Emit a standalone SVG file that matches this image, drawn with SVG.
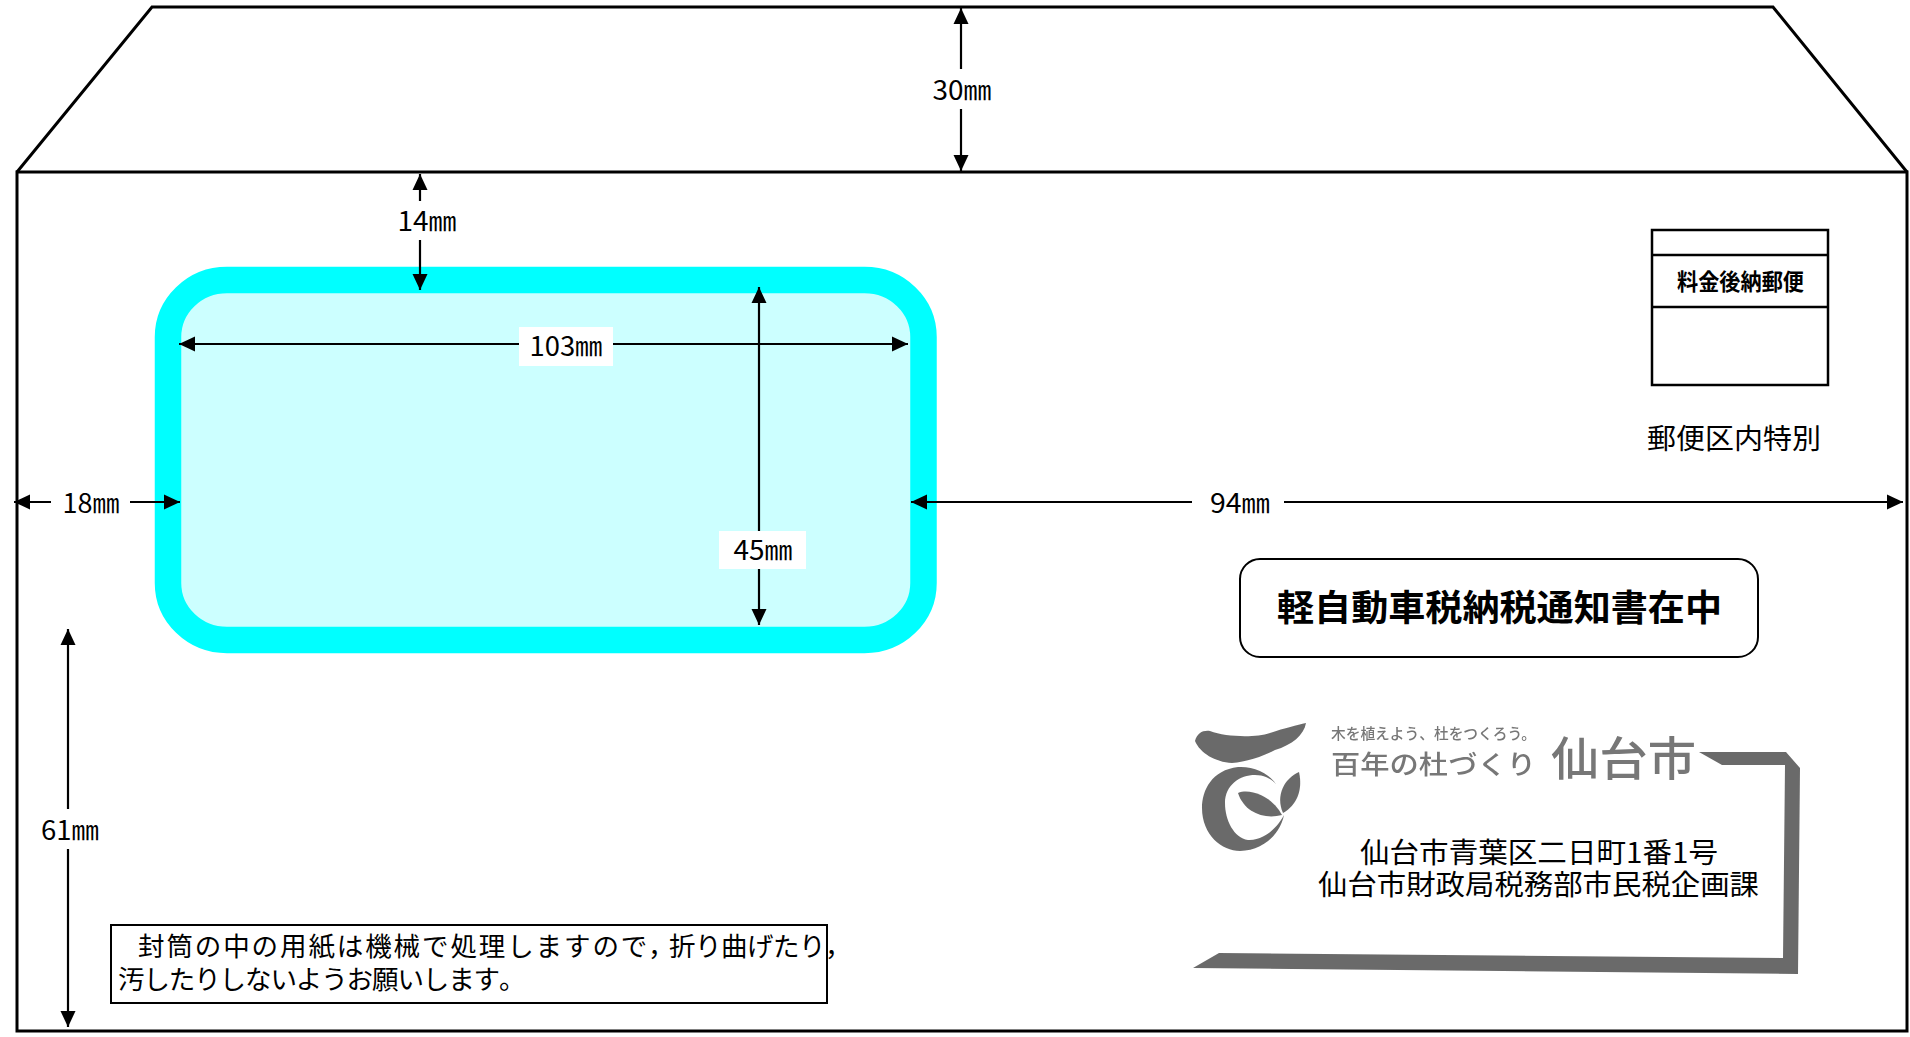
<svg xmlns="http://www.w3.org/2000/svg" width="1910" height="1037" viewBox="0 0 1910 1037">
<style>
text{font-family:"Noto Sans CJK JP","Liberation Sans",sans-serif;fill:#000}
.dim{font-size:27px;text-anchor:middle}
.cap{font-size:28px}
.b{font-weight:700}
.ln{fill:none;stroke:#000;stroke-width:2.2}
.a{marker-end:url(#ah)}
.frame{fill:none;stroke:#000;stroke-width:3}
.lg{fill:#6b6b6b}
.lt{fill:#777;font-weight:500}
</style>
<defs>
<marker id="ah" markerUnits="userSpaceOnUse" markerWidth="16" markerHeight="16" viewBox="0 0 16 16" refX="16" refY="8" orient="auto"><path d="M0,0.5L16,8L0,15.5Z" fill="#000"/></marker>
<filter id="soft" x="-5%" y="-5%" width="110%" height="110%"><feGaussianBlur stdDeviation="0.7"/></filter>
</defs>
<rect width="1910" height="1037" fill="#fff"/>
<g id="envelope">
<path class="frame" d="M17,172L152,7L1773,7L1907,172"/>
<rect class="frame" x="17" y="172" width="1890" height="859"/>
</g>
<g id="window">
<rect x="168" y="280" width="755.500" height="360" rx="59" ry="57" fill="#ccffff" stroke="#00ffff" stroke-width="26.500"/>
</g>
<g id="connectors">
<path class="ln a" d="M961,69L961,8"/>
<path class="ln a" d="M961,109L961,171"/>
<path class="ln a" d="M420,201L420,174"/>
<path class="ln a" d="M420,240L420,290"/>
<path class="ln a" d="M519,344L179,344"/>
<path class="ln a" d="M613,344L908,344"/>
<path class="ln a" d="M759,531L759,287"/>
<path class="ln a" d="M759,569L759,625"/>
<path class="ln a" d="M51,502L14,502"/>
<path class="ln a" d="M130,502L180,502"/>
<path class="ln a" d="M1192,502L911,502"/>
<path class="ln a" d="M1284,502L1903,502"/>
<path class="ln a" d="M68,809L68,629"/>
<path class="ln a" d="M68,849L68,1027"/>
</g>
<g id="dim-30"><text class="dim" x="962" y="100" textLength="59" lengthAdjust="spacingAndGlyphs">30㎜</text></g>
<g id="dim-14"><text class="dim" x="427" y="231" textLength="59" lengthAdjust="spacingAndGlyphs">14㎜</text></g>
<g id="dim-103"><rect x="519" y="327" width="94" height="39" fill="#fff"/><text class="dim" x="566" y="356" textLength="73" lengthAdjust="spacingAndGlyphs">103㎜</text></g>
<g id="dim-45"><rect x="719" y="531" width="87" height="38" fill="#fff"/><text class="dim" x="763" y="560" textLength="59" lengthAdjust="spacingAndGlyphs">45㎜</text></g>
<g id="dim-18"><text class="dim" x="91" y="513" textLength="57" lengthAdjust="spacingAndGlyphs">18㎜</text></g>
<g id="dim-94"><text class="dim" x="1240" y="513" textLength="60" lengthAdjust="spacingAndGlyphs">94㎜</text></g>
<g id="dim-61"><text class="dim" x="70" y="840" textLength="58" lengthAdjust="spacingAndGlyphs">61㎜</text></g>
<g id="stamp">
<rect x="1652" y="230" width="176" height="155" fill="#fff" stroke="#000" stroke-width="2.500"/>
<path d="M1652,255L1828,255M1652,307L1828,307" stroke="#000" stroke-width="2.500" fill="none"/>
<text class="b" x="1677" y="290" font-size="23" textLength="127" lengthAdjust="spacingAndGlyphs">料金後納郵便</text>
</g>
<g id="district"><text class="cap" x="1647" y="449" textLength="174" lengthAdjust="spacingAndGlyphs">郵便区内特別</text></g>
<g id="notice">
<rect x="1240" y="559" width="518" height="98" rx="20" ry="20" fill="#fff" stroke="#000" stroke-width="2"/>
<text class="b" x="1277" y="621" font-size="36" textLength="445" lengthAdjust="spacingAndGlyphs">軽自動車税納税通知書在中</text>
</g>
<g id="caution">
<rect x="111" y="925" width="716" height="78" fill="#fff" stroke="#000" stroke-width="2"/>
<text font-size="26.500"><tspan y="956" x="138 166.4 194.8 223.2 251.6 280 308.4 336.8 365.2 393.6 422 450.4 478.8 507.2 535.6 564 592.4 620.8 648 669 695 721 747 773 799 825">封筒の中の用紙は機械で処理しますので，折り曲げたり，</tspan><tspan y="989" x="118 143.4 168.8 194.2 219.6 245 270.4 295.800 321.2 346.6 372 397.4 422.8 448.2 473.6 499">汚したりしないようお願いします。</tspan></text>
</g>
<g id="logo" filter="url(#soft)">
<path class="lg" d="M1195,741C1197,733 1203,730 1210,731C1226,737 1255,738 1270,733C1285,728 1297,725 1306,723C1304,735 1292,745 1275,750C1262,757 1245,762 1232,763C1215,762 1200,753 1195,741Z"/>
<path class="lg" d="M1276,784C1268,772 1252,766 1238,767C1212,770 1202,790 1202,808C1202,835 1222,851 1240,851C1262,851 1280,835 1284,815C1276,830 1262,841 1248,840C1234,838 1225,820 1225,803C1225,785 1240,775 1255,775C1264,775 1272,779 1276,784Z"/>
<path class="lg" d="M1238,793C1250,788 1272,796 1282,815C1264,820 1244,812 1238,793Z"/>
<path class="lg" d="M1283,813C1275,795 1285,778 1299,772C1303,790 1297,805 1283,813Z"/>
<path class="lg" d="M1699,752L1786,752L1800,768L1798,974L1193,968L1219,953L1783,958L1785,765L1722,765Z"/>
<text class="lt" x="1331" y="739" font-size="15" textLength="205" lengthAdjust="spacingAndGlyphs">木を植えよう、杜をつくろう。</text>
<text class="lt" x="1331" y="774" font-size="26" textLength="205" lengthAdjust="spacingAndGlyphs">百年の杜づくり</text>
<text class="lt" x="1551" y="775" font-size="46" textLength="145" lengthAdjust="spacingAndGlyphs">仙台市</text>
</g>
<g id="address">
<text x="1360" y="863" font-size="28" textLength="358" lengthAdjust="spacingAndGlyphs">仙台市青葉区二日町1番1号</text>
<text x="1318" y="895" font-size="28" textLength="441" lengthAdjust="spacingAndGlyphs">仙台市財政局税務部市民税企画課</text>
</g>
</svg>
